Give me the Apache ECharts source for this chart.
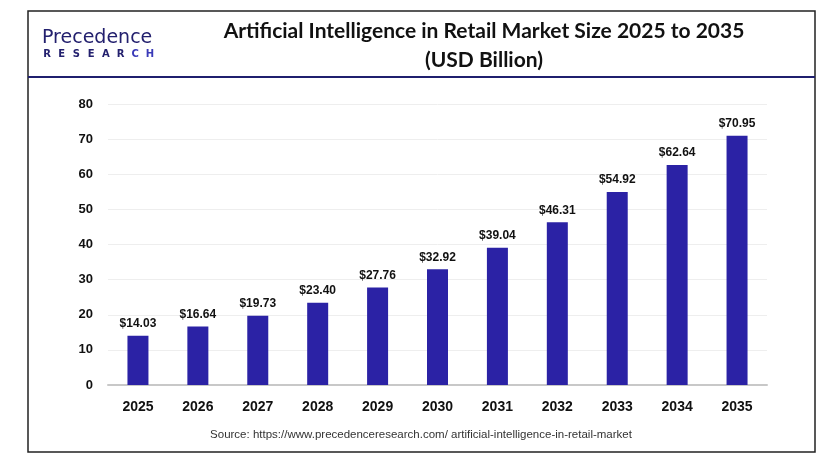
<!DOCTYPE html>
<html><head><meta charset="utf-8">
<script src="https://cdn.jsdelivr.net/npm/echarts@6/dist/echarts.min.js"></script>
<style>html,body{margin:0;padding:0;background:#fff}#c{width:831px;height:462px}</style>
</head><body><div id="c"></div>
<script>
const years = ['2025','2026','2027','2028','2029','2030','2031','2032','2033','2034','2035'];
const values = [14.03,16.64,19.73,23.40,27.76,32.92,39.04,46.31,54.92,62.64,70.95];
const yTicks = [0,10,20,30,40,50,60,70,80];
const titleLines = ['Artificial Intelligence in Retail Market Size 2025 to 2035','(USD Billion)'];
const sourceText = 'Source: https://www.precedenceresearch.com/ artificial-intelligence-in-retail-market';
const logoSub = ['R','E','S','E','A','R','C','H'];

const graphics = [
  {type:'rect',shape:{x:28,y:11,width:787,height:441},style:{fill:'none',stroke:'#222',lineWidth:1.5},z:0},
  {type:'line',shape:{x1:28,y1:77,x2:815,y2:77},style:{stroke:'#1f1f6e',lineWidth:2}},
  {type:'text',x:484,y:31,style:{text:titleLines[0],font:'bold 21px Lato',fill:'#111',textAlign:'center',textVerticalAlign:'middle'}},
  {type:'text',x:484,y:60,style:{text:titleLines[1],font:'bold 21px Lato',fill:'#111',textAlign:'center',textVerticalAlign:'middle'}},
  {type:'text',x:42,y:38,style:{text:'Precedence',font:'19px "DejaVu Sans"',fill:'#23206e',textVerticalAlign:'middle'}},
  {type:'text',x:421,y:435,style:{text:sourceText,font:'11.5px "Liberation Sans"',fill:'#333',textAlign:'center',textVerticalAlign:'middle'}}
];
logoSub.forEach((ch,i)=>graphics.push({type:'text',x:47+i*14.7,y:54,
  style:{text:ch,font:'bold 10px "DejaVu Sans"',fill:i>=6?'#3a3ab8':'#23206e',textAlign:'center',textVerticalAlign:'middle'}}));

const chart = echarts.init(document.getElementById('c'));
chart.setOption({
  animation:false,
  backgroundColor:'#fff',
  graphic:graphics,
  grid:{left:108,right:64,top:104,bottom:77},
  xAxis:{type:'category',data:years,
    axisLine:{lineStyle:{color:'#c8c8c8',width:2}},axisTick:{show:false},
    axisLabel:{color:'#111',fontWeight:'bold',fontSize:14,fontFamily:'Liberation Sans',margin:15}},
  yAxis:{type:'value',min:0,max:80,interval:10,
    axisLine:{show:false},axisTick:{show:false},
    splitLine:{lineStyle:{color:'#eeeeee',width:1}},
    axisLabel:{color:'#111',fontWeight:'bold',fontSize:13,fontFamily:'Liberation Sans',margin:15,
      formatter:v=>yTicks.includes(v)?String(v):''}},
  series:[{type:'bar',data:values,barWidth:21,
    itemStyle:{color:'#2B22A5'},
    label:{show:true,position:'top',distance:6,color:'#111',fontWeight:'bold',fontSize:12,fontFamily:'Liberation Sans',
      formatter:p=>'$'+p.value.toFixed(2)}}]
});
</script></body></html>
